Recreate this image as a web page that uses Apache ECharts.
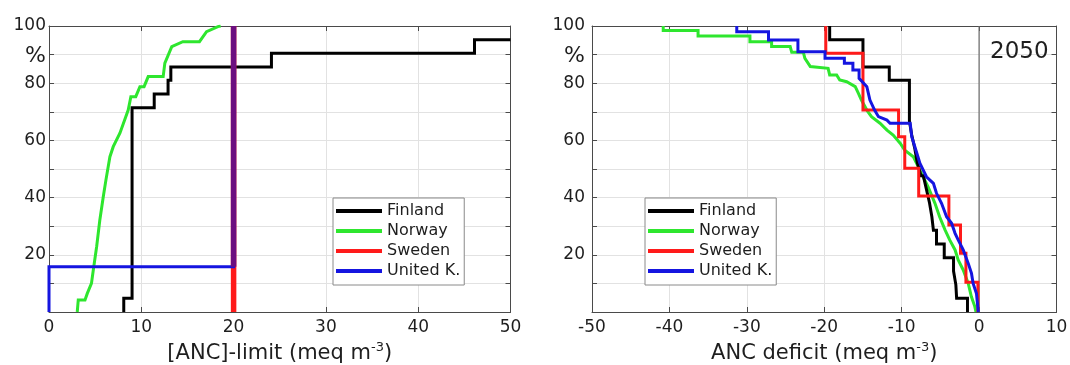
<!DOCTYPE html>
<html>
<head>
<meta charset="utf-8">
<script src="https://cdn.jsdelivr.net/npm/echarts@6/dist/echarts.min.js"></script>
<style>
  html, body { margin: 0; padding: 0; background: #ffffff; }
  #chart { width: 1070px; height: 365px; }
</style>
</head>
<body>
<div id="chart"></div>
<script>
// Countries and their line colours
const countries = ['Finland', 'Norway', 'Sweden', 'United K.'];
const countryColors = ['#000000', '#2ee62e', '#ff1a1a', '#1515e0'];
const overlapColor = '#6c0f80';

// Y axis: cumulative percentage of lakes; labelled ticks, "%" sits at 90
const yLabelValues = [20, 40, 60, 80, 100];
const yUnitTick = 90;
const yUnitLabel = '%';

// Left panel: [ANC]-limit (meq m-3), cumulative distributions
const limitFinland = [[8.1,0],[8.1,4.8],[9.0,4.8],[9.0,71.4],[11.4,71.4],[11.4,76.2],[12.9,76.2],[12.9,81.0],[13.2,81.0],[13.2,85.7],[24.1,85.7],[24.1,90.5],[46.1,90.5],[46.1,95.2],[50,95.2]];
const limitNorway = [[3.06,0],[3.17,4.2],[3.9,4.2],[4.15,6.5],[4.6,10],[4.8,14.7],[5.16,22.8],[5.5,32],[5.88,40.3],[6.17,46.2],[6.6,54.3],[6.96,57.8],[7.68,62.5],[8.58,70.6],[8.87,75.3],[9.4,75.3],[9.85,78.8],[10.3,78.8],[10.75,82.3],[12.37,82.3],[12.55,87],[13.3,92.8],[14.5,94.5],[16.3,94.5],[17.07,98],[18.3,99.8],[18.6,100]];
const limitSweden = [[20,0],[20,100]];
const limitUK = [[0,0],[0,15.8],[20,15.8],[20,100]];
const limitSwedenUK = [[20,15.8],[20,100]];

// Right panel: ANC deficit (meq m-3) in 2050, cumulative distributions
const deficitFinland = [[-19.3,100],[-19.3,95.2],[-15,95.2],[-15,85.7],[-11.6,85.7],[-11.6,81],[-9,81],[-9,66.7],[-8.7,61.9],[-8.3,57.1],[-8,52.4],[-7.5,47.6],[-7.2,47.6],[-6.8,42.9],[-6.4,38.1],[-6.1,33.3],[-5.9,28.6],[-5.5,28.6],[-5.5,23.8],[-4.5,23.8],[-4.5,19],[-3.3,19],[-3.3,14.3],[-3,9.5],[-2.9,4.8],[-1.5,4.8],[-1.5,0]];
const deficitNorway = [[-40.8,100],[-40.8,98.4],[-36.3,98.4],[-36.3,96.5],[-29.6,96.5],[-29.6,94.5],[-26.8,94.5],[-26.8,92.8],[-24.4,92.8],[-24.2,90.8],[-22.7,90.8],[-22.5,88.7],[-21.8,85.8],[-19.5,85.2],[-19.3,82.9],[-18.4,82.9],[-18,81.1],[-17.1,80.5],[-16,78.8],[-15.6,76.5],[-15.2,74.1],[-14.5,70.6],[-13.9,68.3],[-12.8,66],[-11.9,63.6],[-11.1,61.9],[-10.2,59],[-9.6,56.6],[-8.5,54.3],[-7.65,49.6],[-6.6,43.8],[-5.7,38],[-5.1,33.3],[-4.4,28.7],[-3.8,25.2],[-3.1,21.7],[-2.7,18.2],[-2.05,14.7],[-1.4,10],[-1.0,5.4],[-0.55,1.9],[-0.4,0]];
const deficitSweden = [[-19.8,100],[-19.8,90.5],[-15,90.5],[-15,70.6],[-10.4,70.6],[-10.4,61.3],[-9.6,61.3],[-9.6,50.3],[-7.8,50.3],[-7.8,40.6],[-3.9,40.6],[-3.9,30.4],[-2.4,30.4],[-2.4,20.5],[-1.7,20.5],[-1.7,10.4],[-0.15,10.4],[-0.15,0]];
const deficitUK = [[-31.3,100],[-31.3,98],[-27.2,98],[-27.2,95.1],[-23.4,95.1],[-23.4,91],[-19.9,91],[-19.9,88.7],[-17.4,88.7],[-17.4,87],[-16.3,87],[-16.3,84.6],[-15.5,84.6],[-15.5,81.7],[-14.5,78.8],[-14.1,74.1],[-13.5,70.6],[-13,68.3],[-11.9,67.1],[-11.5,66],[-8.9,66],[-8.7,61.3],[-8.3,57.8],[-7.9,54.3],[-7.65,52],[-6.8,47.3],[-5.9,45],[-5.5,41.5],[-4.85,38],[-4.2,33.3],[-3.55,31],[-3.1,27.5],[-2.7,25.2],[-2.05,21.7],[-1.4,17],[-0.98,13.5],[-0.77,10],[-0.34,6.5],[-0.1,0]];
const deficitZero = [[0,0],[0,100]];

const scenarioYear = '2050';

const FONT = 'DejaVu Sans';
const AXIS_COLOR = '#4a4a4a';
const GRID_COLOR = '#e2e2e2';
const TEXT_COLOR = '#1e1e1e';

function yFormatter(v) {
  if (v === yUnitTick) return '{pct|' + yUnitLabel + '}';
  return yLabelValues.includes(v) ? String(v) : '';
}

function bottomAxis(gridIndex, min, max, name) {
  return {
    type: 'value', gridIndex, position: 'bottom', min, max, interval: 10,
    axisLine: { show: true, onZero: false, lineStyle: { color: AXIS_COLOR, width: 1 } },
    axisTick: { show: true, inside: true, length: 5, lineStyle: { color: AXIS_COLOR } },
    axisLabel: { show: true, margin: 7, fontFamily: FONT, fontSize: 17, color: TEXT_COLOR },
    splitLine: { show: true, lineStyle: { color: GRID_COLOR, width: 1 } },
    name, nameLocation: 'middle', nameGap: 28,
    nameTextStyle: {
      fontFamily: FONT, fontSize: 21, color: TEXT_COLOR, lineHeight: 26,
      rich: { sup: { fontFamily: FONT, fontSize: 13, color: TEXT_COLOR, verticalAlign: 'top', lineHeight: 26 } }
    }
  };
}
function topAxis(gridIndex, min, max) {
  return {
    type: 'value', gridIndex, position: 'top', min, max, interval: 10,
    axisLine: { show: true, onZero: false, lineStyle: { color: AXIS_COLOR, width: 1 } },
    axisTick: { show: true, inside: true, length: 5, lineStyle: { color: AXIS_COLOR } },
    axisLabel: { show: false }, splitLine: { show: false }
  };
}
function leftAxis(gridIndex, margin) {
  return {
    type: 'value', gridIndex, position: 'left', min: 0, max: 100, interval: 10,
    axisLine: { show: true, onZero: false, lineStyle: { color: AXIS_COLOR, width: 1 } },
    axisTick: { show: true, inside: true, length: 5, lineStyle: { color: AXIS_COLOR } },
    axisLabel: {
      show: true, margin, fontFamily: FONT, fontSize: 17, color: TEXT_COLOR,
      formatter: yFormatter,
      rich: { pct: { fontFamily: FONT, fontSize: 22, color: TEXT_COLOR, padding: [4, 0, 0, 0] } }
    },
    splitLine: { show: true, lineStyle: { color: GRID_COLOR, width: 1 } }
  };
}
function rightAxis(gridIndex) {
  return {
    type: 'value', gridIndex, position: 'right', min: 0, max: 100, interval: 10,
    axisLine: { show: true, onZero: false, lineStyle: { color: AXIS_COLOR, width: 1 } },
    axisTick: { show: true, inside: true, length: 5, lineStyle: { color: AXIS_COLOR } },
    axisLabel: { show: false }, splitLine: { show: false }
  };
}

function line(name, data, color, width, axisIdx, z, extra) {
  return Object.assign({
    name, type: 'line', data, xAxisIndex: axisIdx, yAxisIndex: axisIdx,
    showSymbol: false, symbol: 'none', z,
    lineStyle: { color, width, join: 'miter', cap: 'butt' },
    itemStyle: { color },
    emphasis: { disabled: true }, silent: true
  }, extra || {});
}

function legendAt(left) {
  return {
    data: countries, orient: 'vertical', left, top: 198,
    padding: [4, 4, 5, 3], itemGap: 2, itemWidth: 46, itemHeight: 4,
    icon: 'rect', selectedMode: false,
    backgroundColor: '#ffffff', borderColor: '#8a8a8a', borderWidth: 1,
    textStyle: { fontFamily: FONT, fontSize: 16, color: TEXT_COLOR, lineHeight: 18 }
  };
}

const chart = echarts.init(document.getElementById('chart'), null, { renderer: 'canvas' });

const option = {
  animation: false,
  backgroundColor: '#ffffff',
  color: countryColors,
  grid: [
    { left: 49, top: 26, width: 461.5, height: 286, containLabel: false, outerBoundsMode: 'none' },
    { left: 592, top: 26, width: 464.5, height: 286, containLabel: false, outerBoundsMode: 'none' }
  ],
  xAxis: [
    bottomAxis(0, 0, 50, '[ANC]-limit (meq m{sup|-3})'),
    topAxis(0, 0, 50),
    bottomAxis(1, -50, 10, 'ANC deficit (meq m{sup|-3})'),
    topAxis(1, -50, 10)
  ],
  yAxis: [leftAxis(0, 3), rightAxis(0), leftAxis(1, 7), rightAxis(1)],
  legend: [legendAt(333), legendAt(645)],
  graphic: [{
    type: 'text', left: 990, top: 41, z: 100,
    style: { text: scenarioYear, fontFamily: FONT, fontSize: 23, fill: TEXT_COLOR }
  }],
  series: [
    // left panel
    line('Finland', limitFinland, countryColors[0], 3, 0, 2),
    line('Norway', limitNorway, countryColors[1], 3, 0, 3),
    line('Sweden', limitSweden, countryColors[2], 5.5, 0, 4),
    line('United K.', limitUK, countryColors[3], 3, 0, 5, { clip: false }),
    line('Sweden / United K.', limitSwedenUK, overlapColor, 5.5, 0, 6),
    // right panel
    line('zero', deficitZero, '#6a6a6a', 1.2, 2, 1),
    line('Norway', deficitNorway, countryColors[1], 3, 2, 2),
    line('Finland', deficitFinland, countryColors[0], 3, 2, 3),
    line('Sweden', deficitSweden, countryColors[2], 3, 2, 4),
    line('United K.', deficitUK, countryColors[3], 3, 2, 5)
  ]
};

chart.setOption(option);
</script>
</body>
</html>
